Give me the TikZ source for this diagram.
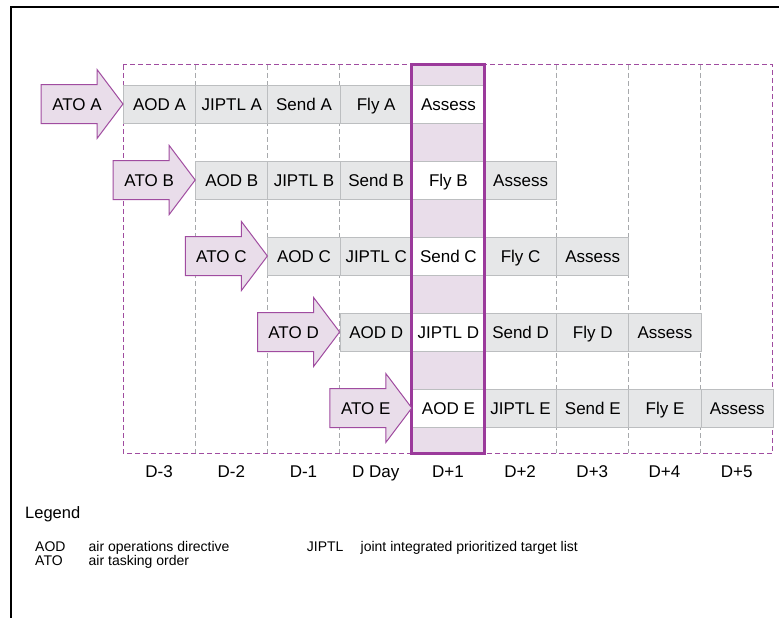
\documentclass[tikz,border=0pt]{standalone}
\usepackage{fontspec}
\setmainfont{Liberation Sans}
\definecolor{cellfill}{HTML}{E6E7E8}
\definecolor{cellline}{HTML}{BCBEC0}
\definecolor{pinkfill}{HTML}{E9DDEA}
\definecolor{purp}{HTML}{9B3A9B}
\definecolor{purpdash}{HTML}{A04CA0}
\definecolor{gridgray}{HTML}{A7A9AC}
\tikzset{
  mainfont/.style={font=\fontsize{17}{19}\selectfont, text height=12.2pt, text depth=0pt},
  cellbox/.style={mainfont, draw=cellline, line width=1pt, fill=cellfill, minimum width=72.2pt, minimum height=38pt, inner sep=0pt, anchor=north west},
  whitebox/.style={cellbox, fill=white},
  griddash/.style={draw=gridgray, line width=0.8pt, dash pattern=on 5pt off 3pt},
  outerdash/.style={draw=purpdash, line width=1pt, dash pattern=on 5pt off 3pt},
  hilite/.style={draw=purp, line width=3pt},
  atoarrow/.style={draw=purpdash, line width=1pt, fill=pinkfill, line join=miter},
  atotext/.style={mainfont, inner sep=0pt},
  daylabel/.style={mainfont, inner sep=0pt},
  legtext/.style={font=\fontsize{14}{16}\selectfont, text height=10pt, text depth=0pt, inner sep=0pt, anchor=west},
}
\begin{document}
\begin{tikzpicture}[x=1pt,y=-1pt]
\useasboundingbox (0,0) rectangle (779,618);
\fill[white] (0,0) rectangle (779,618);
\draw[line width=2pt] (11,640) -- (11,7) -- (800,7);
% highlight column fill
\fill[pinkfill] (411.8,65) rectangle (484,453);
% grid lines
\foreach \i in {1,...,8} {
  \draw[griddash] ({123+72.2*\i},65) -- ({123+72.2*\i},453);
}
\draw[outerdash] (123,65) rectangle (772.8,453);
% cells: row/col/text/style
\foreach \r/\c/\t/\s in {
  0/0/AOD A/cellbox, 0/1/JIPTL A/cellbox, 0/2/Send A/cellbox, 0/3/Fly A/cellbox, 0/4/Assess/whitebox,
  1/1/AOD B/cellbox, 1/2/JIPTL B/cellbox, 1/3/Send B/cellbox, 1/4/Fly B/whitebox, 1/5/Assess/cellbox,
  2/2/AOD C/cellbox, 2/3/JIPTL C/cellbox, 2/4/Send C/whitebox, 2/5/Fly C/cellbox, 2/6/Assess/cellbox,
  3/3/AOD D/cellbox, 3/4/JIPTL D/whitebox, 3/5/Send D/cellbox, 3/6/Fly D/cellbox, 3/7/Assess/cellbox,
  4/4/AOD E/whitebox, 4/5/JIPTL E/cellbox, 4/6/Send E/cellbox, 4/7/Fly E/cellbox, 4/8/Assess/cellbox} {
  \node[\s] (cell-\r-\c) at ({123+72.2*\c},{85+76*\r}) {\t};
}
% highlight border
\draw[hilite] (411.8,65) rectangle (484,453);
% ATO arrows
\foreach \k/\L in {0/A,1/B,2/C,3/D,4/E} {
  \pgfmathsetmacro{\tx}{123+72.2*\k}
  \pgfmathsetmacro{\ty}{104+76*\k}
  \draw[atoarrow] (\tx-82,\ty-19.5) -- (\tx-26,\ty-19.5) -- (\tx-26,\ty-34.5) -- (\tx,\ty) -- (\tx-26,\ty+34.5) -- (\tx-26,\ty+19.5) -- (\tx-82,\ty+19.5) -- cycle;
  \node[atotext] (ato-\L) at (\tx-46,\ty) {ATO \L};
}
% day labels
\foreach \i/\d in {0/D-3,1/D-2,2/D-1,3/D Day,4/D+1,5/D+2,6/D+3,7/D+4,8/D+5} {
  \node[daylabel] (day-\i) at ({159.1+72.2*\i},471) {\d};
}
% legend
\node[legtext, font=\fontsize{16.5}{18}\selectfont, text height=11.5pt] (legend) at (25,513) {Legend};
\node[legtext] (leg-aod) at (35,546.5) {AOD};
\node[legtext] (leg-aod-d) at (88.5,546.5) {air operations directive};
\node[legtext] (leg-ato) at (35,560.5) {ATO};
\node[legtext] (leg-ato-d) at (88.5,560.5) {air tasking order};
\node[legtext] (leg-jip) at (306.7,546.5) {JIPTL};
\node[legtext] (leg-jip-d) at (360.5,546.5) {joint integrated prioritized target list};
\end{tikzpicture}
\end{document}
